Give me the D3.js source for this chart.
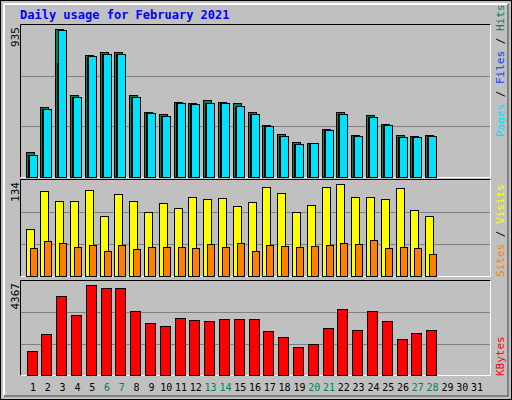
<!DOCTYPE html>
<html><head><meta charset="utf-8">
<script src="https://cdn.jsdelivr.net/npm/d3@7"></script>
<style>body{margin:0;background:#fff}</style>
</head><body><div id="chart"></div>
<script>
const days = d3.range(1, 32)
const weekend = [6, 7, 13, 14, 20, 21, 27, 28]
const hits  = [158,442,935,518,771,790,790,518,411,398,474,468,487,474,468,411,329,272,221,215,303,411,265,392,335,265,259,265]
const files = [139,428,720,506,760,777,777,506,404,385,466,461,466,466,440,395,322,259,209,215,294,398,259,379,329,253,253,259]
const pages = [139,430,929,506,765,777,777,506,404,385,468,461,468,468,449,398,322,259,209,215,297,398,259,379,329,253,253,259]
const visits = [68,124,109,109,125,87,119,109,93,106,99,115,112,113,102,108,130,121,93,103,130,134,115,115,112,128,96,87]
const sites  = [41,51,48,42,45,36,45,39,42,42,42,41,47,42,48,36,45,44,42,44,45,48,47,52,41,42,41,32]
const kbytes = [1152,1968,3840,2928,4367,4224,4224,3120,2544,2400,2784,2688,2640,2736,2736,2736,2112,1824,1344,1488,2304,3216,2160,3120,2640,1728,2016,2160]

const W = 512, H = 400
const svg = d3.select('#chart').append('svg').attr('width', W).attr('height', H)
  .style('font-family', 'DejaVu Sans Mono, monospace')

// fondo con bisel
svg.append('rect').attr('x', 0.5).attr('y', 0.5).attr('width', W - 1).attr('height', H - 1)
  .attr('fill', '#c0c0c0').attr('stroke', '#000')
svg.append('path').attr('d', `M4,${H-4}V4H${W-4}`).attr('stroke', '#fff').attr('stroke-width', 2).attr('fill', 'none')
svg.append('path').attr('d', `M4,${H-4}H${W-4}V4`).attr('stroke', '#808080').attr('stroke-width', 2).attr('fill', 'none')

svg.append('text').attr('x', 20).attr('y', 19).text('Daily usage for February 2021')
  .attr('fill', '#0000ff').attr('font-weight', 'bold').attr('font-size', 12)

const x = d3.scaleBand().domain(days).range([25.6, 484.4])

const panels = [
  {top: 25, bottom: 177, max: 935, label: '935'},
  {top: 180, bottom: 276, max: 134, label: '134'},
  {top: 281, bottom: 375, max: 4367, label: '4367'}
]
panels.forEach(p => {
  p.y = d3.scaleLinear().domain([0, p.max]).range([p.bottom, p.top + 4])
  svg.append('rect').attr('x', 20.5).attr('y', p.top - 0.5).attr('width', 470).attr('height', p.bottom - p.top + 1)
    .attr('fill', '#c0c0c0').attr('stroke', 'none')
  // rejilla
  ;[1, 2].forEach(k => {
    const gy = Math.round(p.bottom - (p.bottom - p.top) * k / 3) + 0.5
    svg.append('line').attr('x1', 21).attr('x2', 490).attr('y1', gy).attr('y2', gy)
      .attr('stroke', '#808080').attr('stroke-width', 1)
  })
  svg.append('path').attr('d', `M20.5,${p.bottom + 0.5}V${p.top - 0.5}H490.5`).attr('stroke', '#000').attr('fill', 'none')
  svg.append('path').attr('d', `M20.5,${p.bottom + 0.5}H490.5V${p.top - 0.5}`).attr('stroke', '#fff').attr('fill', 'none')
  svg.append('text').attr('transform', `translate(19,${p.top + 2}) rotate(-90)`)
    .attr('text-anchor', 'end').attr('font-size', 11).text(p.label)
})

function bars(data, p, dx, w, color) {
  svg.append('g').selectAll('rect').data(data).join('rect')
    .attr('x', (d, i) => Math.round(x(i + 1)) + dx + 0.5)
    .attr('y', d => Math.round(p.y(d)) + 0.5)
    .attr('width', w)
    .attr('height', d => p.bottom - Math.round(p.y(d)))
    .attr('fill', color).attr('stroke', '#000')
}
bars(hits, panels[0], 0, 8, '#00805c')
bars(files, panels[0], 2, 8, '#0040ff')
bars(pages, panels[0], 3, 8, '#00e0ff')
bars(visits, panels[1], 0, 8, '#ffff00')
bars(sites, panels[1], 4, 7, '#ff8000')
bars(kbytes, panels[2], 1, 10, '#ff0000')

// etiquetas de días
svg.append('g').selectAll('text').data(days).join('text')
  .attr('x', d => x(d) + x.bandwidth() / 2).attr('y', 391)
  .attr('text-anchor', 'middle').attr('font-size', 10)
  .attr('fill', d => weekend.includes(d) ? '#00805c' : '#000')
  .text(d => d)

// leyendas laterales
function legend(parts, yEnd) {
  const t = svg.append('text').attr('transform', `translate(504,${yEnd}) rotate(-90)`)
    .attr('font-size', 11)
  parts.forEach(([s, c]) => t.append('tspan').attr('fill', c).text(s))
}
legend([['Pages', '#00e0ff'], [' / ', '#000'], ['Files', '#0040ff'], [' / ', '#000'], ['Hits', '#00805c']], 137)
legend([['Sites', '#ff8000'], [' / ', '#000'], ['Visits', '#ffff00']], 277)
legend([['KBytes', '#ff0000']], 376)
</script></body></html>
